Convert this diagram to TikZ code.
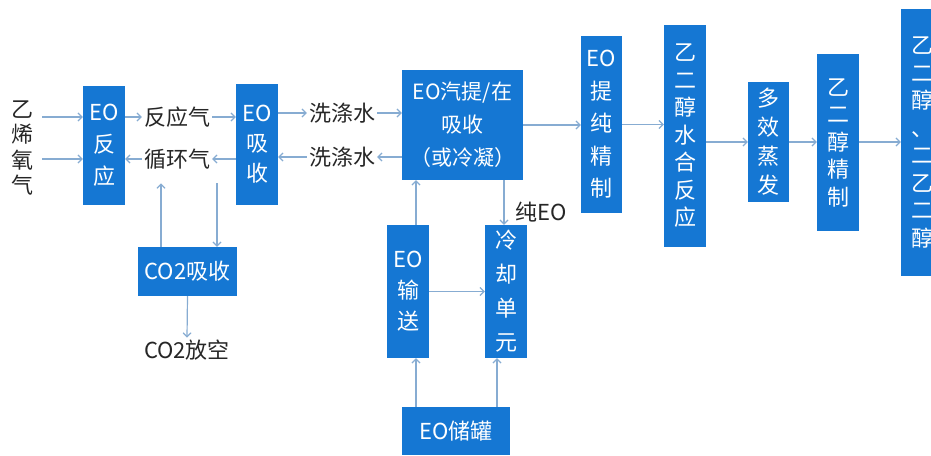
\documentclass[tikz,border=0pt]{standalone}
\usepackage{fontspec}
\newfontfamily\cjk{Noto Sans CJK SC}
\usetikzlibrary{arrows.meta}
\definecolor{boxblue}{RGB}{21,119,211}
\definecolor{lineblue}{RGB}{135,172,210}

\begin{document}
\begin{tikzpicture}[x=1pt, y=-1pt,
  blk/.style={fill=boxblue, text=white, inner sep=0pt, align=center, font=\cjk\fontsize{22}{#1}\selectfont},
  blk/.default=30,
  lbl/.style={text=black!85, inner sep=2pt, align=center, font=\cjk\fontsize{22}{26}\selectfont},
  arr/.style={-{Straight Barb[length=4pt,width=8pt]}, lineblue, line width=1.2pt}]

  \useasboundingbox (0,0) rectangle (931,455);
  \clip (0,0) rectangle (931,455);

  % gas loop
  \node[lbl, font=\cjk\fontsize{22}{25.5}\selectfont] at (22,148) (yx) {乙\\烯\\氧\\气};
  \node[blk=32, minimum width=42pt, minimum height=119pt] at (104,145.5) (fy) {EO\\反\\应};
  \node[lbl] at (177,117) (fqg) {反应气};
  \node[lbl] at (177,159) (xhq) {循环气};
  \node[blk=30, minimum width=42pt, minimum height=121pt] at (257,144.5) (xs) {EO\\吸\\收};
  \node[blk, minimum width=99pt, minimum height=49pt] at (187.5,271.5) (co2) {CO2吸收};
  \node[lbl] at (187,350) (fk) {CO2放空};

  % EO section
  \node[lbl] at (342,113) (xd1) {洗涤水};
  \node[lbl] at (342,157) (xd2) {洗涤水};
  \node[blk=33, minimum width=121pt, minimum height=110pt, font=\cjk\fontsize{21}{33}\selectfont] at (462.5,125) (tq) {EO汽提/在\\吸收\\（或冷凝）};
  \node[blk=31, minimum width=42pt, minimum height=133pt] at (408,291.5) (ss) {EO\\输\\送};
  \node[blk=34, minimum width=42pt, minimum height=133pt] at (506,291.5) (lq) {冷\\却\\单\\元};
  \node[blk, minimum width=108pt, minimum height=48pt] at (456,431) (cg) {EO储罐};
  \node[lbl, anchor=west] at (513,212) (cEO) {纯EO};

  % glycol line
  \node[blk=32.5, minimum width=41pt, minimum height=177pt] at (601.5,124.5) (tc) {EO\\提\\纯\\精\\制};
  \node[blk=27.5, minimum width=42pt, minimum height=222pt] at (685,136) (sh) {乙\\二\\醇\\水\\合\\反\\应};
  \node[blk=29, minimum width=41pt, minimum height=120pt] at (768.5,142) (dx) {多\\效\\蒸\\发};
  \node[blk=27.5, minimum width=42pt, minimum height=177pt] at (838,142.5) (jz) {乙\\二\\醇\\精\\制};
  \node[blk=27.5, minimum width=42pt, minimum height=267pt] at (922,142.5) (cp) {乙\\二\\醇\\、\\二\\乙\\二\\醇};

  \path[arr, shorten <=7pt] (yx.east |- fqg) edge (fy.west |- fqg);
  \path[arr, shorten <=7pt] (yx.east |- xhq) edge (fy.west |- xhq);
  \path[arr] (fy.east |- fqg) edge (fqg.west);
  \path[arr] (xhq.west) edge (fy.east |- xhq);
  \path[arr] (fqg.east) edge (xs.west |- fqg);
  \path[arr] (xs.west |- xhq) edge (xhq.east);
  \path[arr, shorten >=12pt] ([xshift=-26.5]co2.north) edge ([xshift=-26.5]co2.north |- xhq.south);
  \path[arr, shorten <=12pt] ([xshift=29.5]co2.north |- xhq.south) edge ([xshift=29.5]co2.north);
  \path[arr] (co2.south) edge (fk.north);

  \path[arr] (xs.east |- xd1) edge (xd1.west);
  \path[arr] (xd1.east) edge (tq.west |- xd1);
  \path[arr] (tq.west |- xd2) edge (xd2.east);
  \path[arr] (xd2.west) edge (xs.east |- xd2);
  \path[arr] ([xshift=8]ss.north) edge ([xshift=8]ss.north |- tq.south);
  \path[arr] ([xshift=-2]lq.north |- tq.south) edge ([xshift=-2]lq.north);
  \path[arr] (ss.east) edge (lq.west);
  \path[arr] ([xshift=8]ss.south |- cg.north) edge ([xshift=8]ss.south);
  \path[arr] ([xshift=-9]lq.south |- cg.north) edge ([xshift=-9]lq.south);

  \path[arr] (tq.east) edge (tc.west |- tq);
  \path[arr] (tc.east) edge (sh.west |- tc);
  \path[arr] (sh.east |- dx) edge (dx.west);
  \path[arr] (dx.east) edge (jz.west |- dx);
  \path[arr] (jz.east |- dx) edge (cp.west |- dx);

\end{tikzpicture}
\end{document}
